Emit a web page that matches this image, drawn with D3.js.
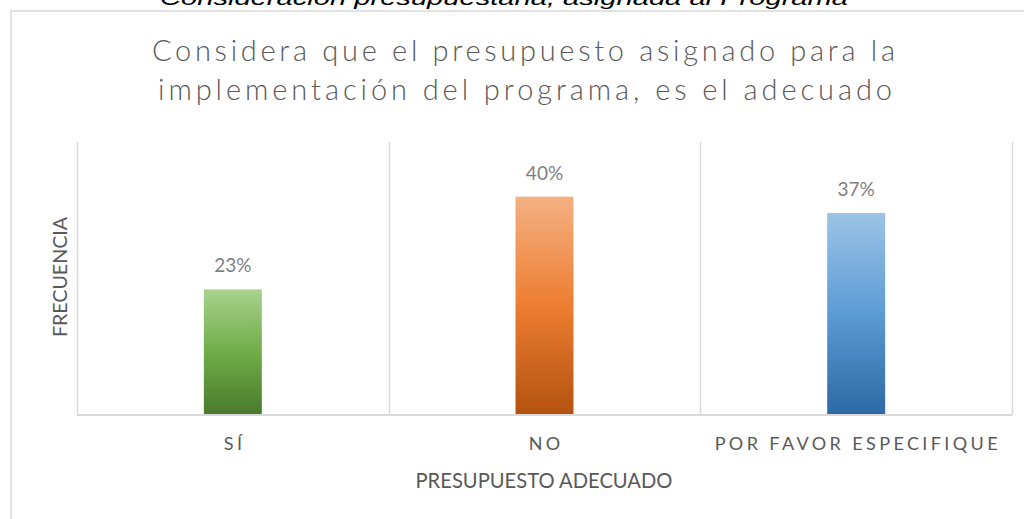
<!DOCTYPE html>
<html>
<head>
<meta charset="utf-8">
<script src="https://cdn.jsdelivr.net/npm/d3@7"></script>
<style>
  html, body { margin: 0; padding: 0; background: #ffffff; }
  svg { display: block; }
</style>
</head>
<body>
<svg id="chart" width="1024" height="519"></svg>
<script>
// ---- data ----
const categories = ["SÍ", "NO", "POR FAVOR ESPECIFIQUE"];
const values = [0.23, 0.40, 0.37];
const valueLabels = ["23%", "40%", "37%"];
const gradientStops = [
  ["#a9d18e", "#70ad47", "#4a7a2d"],
  ["#f4b183", "#ed7d31", "#b3520f"],
  ["#9dc3e6", "#5b9bd5", "#2d69a4"]
];
const captionText = "Consideración presupuestaria, asignada al Programa";
const titleLines = ["Considera que el presupuesto asignado para la", "implementación del programa, es el adecuado"];
const xTitle = "PRESUPUESTO ADECUADO";
const yTitle = "FRECUENCIA";

// ---- layout ----
const svg = d3.select("#chart");
const plot = { left: 77, right: 1012, top: 142, bottom: 415 };
const FONT = "Lato, 'Open Sans', sans-serif";

const x = d3.scaleBand().domain(categories).range([plot.left, plot.right]).padding(0);
const y = d3.scaleLinear().domain([0, 0.5]).range([plot.bottom, plot.top]);
const barW = x.bandwidth() * 0.186;

// caption (cut at top edge, as in the source)
svg.append("text")
  .attr("x", 504).attr("y", 5)
  .attr("text-anchor", "middle")
  .attr("font-family", "Liberation Sans, Arial, sans-serif")
  .attr("font-style", "italic")
  .attr("font-size", 21)
  .attr("fill", "#000")
  .attr("textLength", 688).attr("lengthAdjust", "spacingAndGlyphs")
  .text(captionText);

// chart frame
svg.append("rect")
  .attr("x", 11).attr("y", 11)
  .attr("width", 1030).attr("height", 530)
  .attr("fill", "none").attr("stroke", "#d9d9d9").attr("stroke-width", 1.5);

// title
titleLines.forEach((t, i) => {
  svg.append("text")
    .attr("x", i === 0 ? 523.5 : 525).attr("y", 61 + i * 39)
    .attr("text-anchor", "middle")
    .attr("font-family", FONT)
    .attr("font-weight", 300)
    .attr("font-size", 29)
    .attr("fill", "#595959")
    .attr("textLength", i === 0 ? 743 : 734)
    .attr("lengthAdjust", "spacing")
    .text(t);
});

// gradients
const defs = svg.append("defs");
gradientStops.forEach((s, i) => {
  const g = defs.append("linearGradient")
    .attr("id", "grad" + i)
    .attr("x1", 0).attr("y1", 0).attr("x2", 0).attr("y2", 1);
  g.append("stop").attr("offset", "0%").attr("stop-color", s[0]);
  g.append("stop").attr("offset", "50%").attr("stop-color", s[1]);
  g.append("stop").attr("offset", "100%").attr("stop-color", s[2]);
});

// vertical gridlines at category boundaries
const bounds = categories.map(c => x(c)).concat([x(categories[categories.length - 1]) + x.bandwidth()]);
svg.append("g").selectAll("line").data(bounds).join("line")
  .attr("x1", d => Math.round(d) + 0.5).attr("x2", d => Math.round(d) + 0.5)
  .attr("y1", plot.top).attr("y2", plot.bottom)
  .attr("stroke", "#d9d9d9").attr("stroke-width", 1.5);

// bars
const data = categories.map((c, i) => ({ c, v: values[i], label: valueLabels[i], i }));
svg.append("g").selectAll("rect").data(data).join("rect")
  .attr("x", d => x(d.c) + x.bandwidth() / 2 - barW / 2)
  .attr("y", d => y(d.v))
  .attr("width", barW)
  .attr("height", d => y(0) - y(d.v))
  .attr("fill", d => `url(#grad${d.i})`);

// baseline axis
const xAxis = svg.append("g")
  .attr("transform", `translate(0,${plot.bottom})`)
  .call(d3.axisBottom(x).tickSize(0).tickPadding(0).tickFormat(""));
xAxis.select(".domain").attr("stroke", "#d9d9d9").attr("stroke-width", 2)
  .attr("d", `M${plot.left},0H${plot.right}`);

// category labels
svg.append("g").selectAll("text").data(data).join("text")
  .attr("x", d => x(d.c) + x.bandwidth() / 2 + 1.7)
  .attr("y", 450)
  .attr("text-anchor", "middle")
  .attr("font-family", FONT)
  .attr("font-size", 18)
  .attr("letter-spacing", 3.4)
  .attr("fill", "#595959")
  .text(d => d.c);

// data labels
svg.append("g").selectAll("text").data(data).join("text")
  .attr("x", d => x(d.c) + x.bandwidth() / 2)
  .attr("y", d => y(d.v) - 17)
  .attr("text-anchor", "middle")
  .attr("font-family", FONT)
  .attr("font-size", 19)
  .attr("fill", "#7f7f7f")
  .text(d => d.label);

// x axis title
svg.append("text")
  .attr("x", 544).attr("y", 488)
  .attr("text-anchor", "middle")
  .attr("font-family", FONT)
  .attr("font-size", 21)
  .attr("fill", "#595959")
  .attr("textLength", 257).attr("lengthAdjust", "spacingAndGlyphs")
  .text(xTitle);

// y axis title
svg.append("text")
  .attr("transform", `translate(60,${277}) rotate(-90)`)
  .attr("text-anchor", "middle")
  .attr("dy", "0.36em")
  .attr("font-family", FONT)
  .attr("font-size", 20)
  .attr("fill", "#595959")
  .attr("textLength", 120).attr("lengthAdjust", "spacingAndGlyphs")
  .text(yTitle);
</script>
</body>
</html>
